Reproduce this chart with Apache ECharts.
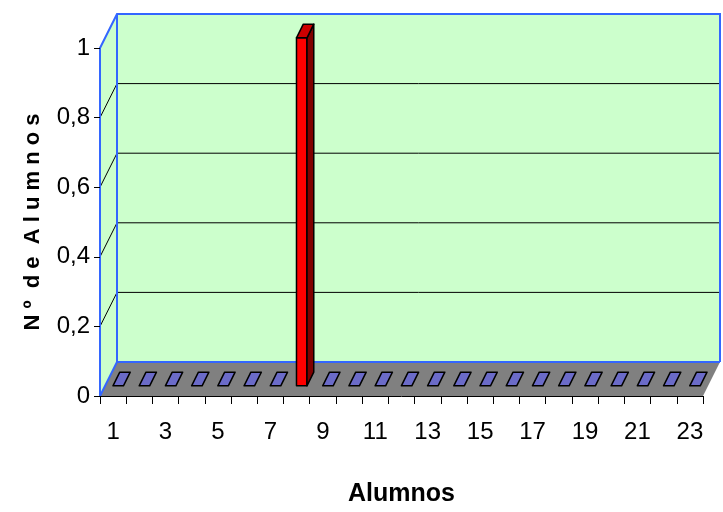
<!DOCTYPE html>
<html>
<head>
<meta charset="utf-8">
<script src="https://cdn.jsdelivr.net/npm/echarts@6/dist/echarts.min.js"></script>
<style>
  html, body { margin: 0; padding: 0; background: #ffffff; }
  #chart { width: 723px; height: 512px; }
</style>
</head>
<body>
<div id="chart"></div>
<script>
// ---- data ----
const categories = ['1','2','3','4','5','6','7','8','9','10','11','12','13','14','15','16','17','18','19','20','21','22','23'];
const studentCounts = [0,0,0,0,0,0,0,1,0,0,0,0,0,0,0,0,0,0,0,0,0,0,0];
const yTicks = [0, 0.2, 0.4, 0.6, 0.8, 1];
const yTitle = 'N º  d e  A l u m n o s';
const xTitle = 'Alumnos';

// ---- styling ----
const DEPTH_X = 17;          // horizontal shift from front plane to back wall
const DEPTH_Y = -34;         // vertical shift from front plane to back wall
const BAR_FRONT = 0.3;       // bar front as a fraction of the depth
const BAR_BACK = 0.7;        // bar back as a fraction of the depth
const BAR_WIDTH = 0.4;       // bar width as a fraction of the category band
const WALL_FILL = '#ccffcc';
const WALL_EDGE = '#3366ff';
const FLOOR_FILL = '#808080';
const BASE_BAR = { front: '#9999ff', side: '#4d4d99', top: '#6b6bc8' };
const RED_BAR = { front: '#ff0000', side: '#800000', top: '#cc0000' };
const barStyleByIndex = { 7: RED_BAR };
const FONT = "'Liberation Sans', Arial, sans-serif";

const yMin = yTicks[0];
const yMax = yTicks[yTicks.length - 1];

function renderWalls(params, api) {
  const n = categories.length;
  const bw = api.size([1, 0])[0];
  const x0 = api.coord([0, yMin])[0] - bw / 2;
  const x1 = api.coord([n - 1, yMin])[0] + bw / 2;
  const yb = api.coord([0, yMin])[1];
  const yt = api.coord([0, yMax])[1];
  const bx0 = x0 + DEPTH_X, bx1 = x1 + DEPTH_X;
  const byb = yb + DEPTH_Y, byt = yt + DEPTH_Y;
  const children = [];
  // back wall
  children.push({ type: 'polygon', shape: { points: [[bx0, byt], [bx1, byt], [bx1, byb], [bx0, byb]] },
    style: { fill: WALL_FILL } });
  // side wall
  children.push({ type: 'polygon', shape: { points: [[x0, yt], [bx0, byt], [bx0, byb], [x0, yb]] },
    style: { fill: WALL_FILL } });
  // floor
  children.push({ type: 'polygon', shape: { points: [[x0, yb], [bx0, byb], [bx1, byb], [x1, yb]] },
    style: { fill: FLOOR_FILL } });
  // gridlines on the back wall and the side wall
  yTicks.slice(1, -1).forEach(function (v) {
    const y = api.coord([0, v])[1];
    children.push({ type: 'polyline', shape: { points: [[x0, y], [bx0, y + DEPTH_Y], [bx1, y + DEPTH_Y]] },
      style: { stroke: '#000000', lineWidth: 1, fill: null } });
  });
  // wall edges
  const edges = [
    [[x0, yb], [x0, yt], [bx0, byt], [bx1, byt], [bx1, byb]],
    [[bx0, byt], [bx0, byb], [bx1, byb]],
    [[x0, yb], [bx0, byb]]
  ];
  edges.forEach(function (pts) {
    children.push({ type: 'polyline', shape: { points: pts },
      style: { stroke: WALL_EDGE, lineWidth: 2, fill: null } });
  });
  return { type: 'group', children: children };
}

function renderBar(params, api) {
  const i = api.value(0);
  const v = api.value(1);
  const st = barStyleByIndex[i] || BASE_BAR;
  const bw = api.size([1, 0])[0];
  const base = api.coord([i, yMin]);
  const top = api.coord([i, v]);
  const w = bw * BAR_WIDTH;
  const fx = base[0] + DEPTH_X * BAR_FRONT - w / 2;
  const fy0 = base[1] + DEPTH_Y * BAR_FRONT;
  const fy1 = top[1] + DEPTH_Y * BAR_FRONT;
  const ddx = DEPTH_X * (BAR_BACK - BAR_FRONT);
  const ddy = DEPTH_Y * (BAR_BACK - BAR_FRONT);
  const line = { stroke: '#000000', lineWidth: 1.5, lineJoin: 'round' };
  const children = [];
  if (fy0 - fy1 > 0.5) {
    children.push({ type: 'polygon', shape: { points: [[fx, fy1], [fx + w, fy1], [fx + w, fy0], [fx, fy0]] },
      style: Object.assign({ fill: st.front }, line) });
    children.push({ type: 'polygon', shape: { points: [[fx + w, fy1], [fx + w + ddx, fy1 + ddy], [fx + w + ddx, fy0 + ddy], [fx + w, fy0]] },
      style: Object.assign({ fill: st.side }, line) });
  }
  children.push({ type: 'polygon', shape: { points: [[fx, fy1], [fx + w, fy1], [fx + w + ddx, fy1 + ddy], [fx + ddx, fy1 + ddy]] },
    style: Object.assign({ fill: st.top }, line) });
  return { type: 'group', children: children };
}

const chart = echarts.init(document.getElementById('chart'), null, { renderer: 'canvas' });
chart.setOption({
  animation: false,
  backgroundColor: '#ffffff',
  grid: { left: 100, right: 20, top: 48, bottom: 116, containLabel: false },
  xAxis: {
    type: 'category',
    data: categories,
    boundaryGap: true,
    z: 10,
    name: xTitle,
    nameLocation: 'middle',
    nameGap: 86,
    nameTextStyle: { fontFamily: FONT, fontWeight: 'bold', fontSize: 25, color: '#000000' },
    axisLine: { show: true, lineStyle: { color: '#000000', width: 1 } },
    axisTick: { show: true, alignWithLabel: false, interval: 0, length: 8, lineStyle: { color: '#000000' } },
    axisLabel: { interval: 1, margin: 24, fontFamily: FONT, fontSize: 24, color: '#000000' },
    splitLine: { show: false }
  },
  yAxis: {
    type: 'value',
    min: yMin,
    max: yMax,
    interval: 0.2,
    z: 10,
    name: yTitle,
    nameLocation: 'middle',
    nameGap: 56,
    nameRotate: 90,
    nameTextStyle: { fontFamily: FONT, fontWeight: 'bold', fontSize: 22, color: '#000000' },
    axisLine: { show: false },
    axisTick: { show: true, length: 6, lineStyle: { color: '#000000' } },
    axisLabel: {
      margin: 10, fontFamily: FONT, fontSize: 24, color: '#000000',
      formatter: function (v) { return String(Math.round(v * 10) / 10).replace('.', ','); }
    },
    splitLine: { show: false }
  },
  series: [
    { type: 'custom', name: 'walls', z: 1, silent: true, renderItem: renderWalls, data: [[0, 0]], clip: false },
    {
      type: 'custom', name: 'Alumnos', z: 3, renderItem: renderBar, clip: false,
      data: studentCounts.map(function (v, i) { return [i, v]; })
    }
  ]
});
</script>
</body>
</html>
